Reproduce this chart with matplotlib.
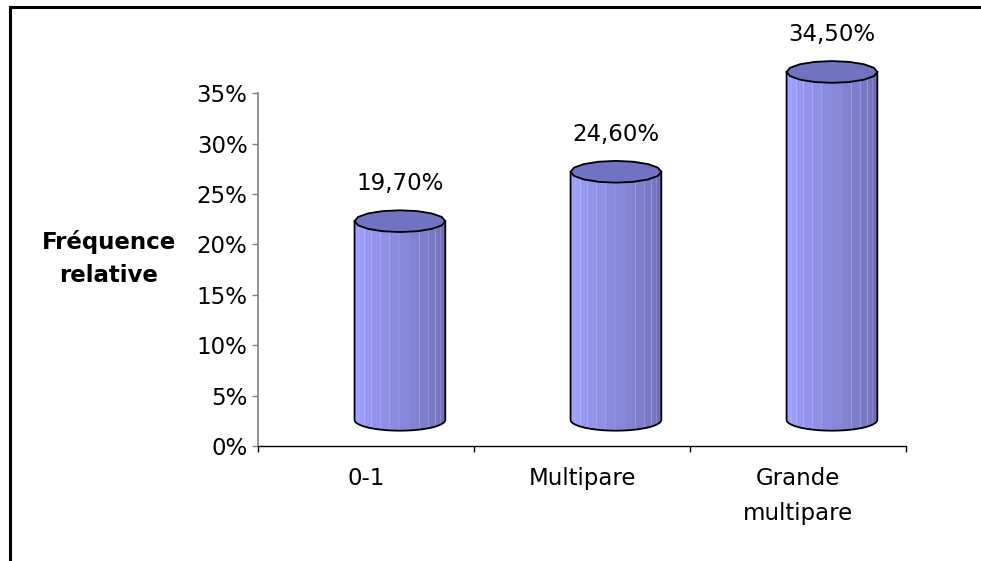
import numpy as np
import matplotlib
matplotlib.use("Agg")
import matplotlib.pyplot as plt
from matplotlib.lines import Line2D
from matplotlib.colors import to_rgb

plt.rcParams['font.family'] = ['DejaVu Sans']

categories = ['0-1', 'Multipare', 'Grande\nmultipare']
values = [0.197, 0.246, 0.345]
yticks = [0, 0.05, 0.10, 0.15, 0.20, 0.25, 0.30, 0.35]

# 3D cylinder look (Excel style): width in category units, depth shift, ellipse radius
cyl_width = 0.42
shift_x = 0.157
base_y = 0.026
ell_ry = 0.0108
n_facets = 14

light = np.array(to_rgb('#a0a0ff'))
dark = np.array(to_rgb('#6c6cb4'))
top_col = '#7272c2'

fig = plt.figure(figsize=(9.81, 5.61), dpi=100)
ax = fig.add_axes([0.263, 0.205, 0.6606, 0.629])
ax.set_xlim(-0.5, 2.5)
ax.set_ylim(0, 0.35)

for i, v in enumerate(values):
    cx = i + shift_x
    rx = cyl_width / 2
    top = base_y + v
    # side of the cylinder as shaded vertical facets
    th = np.linspace(np.pi, 0, n_facets + 1)
    for k in range(n_facets):
        t0, t1 = th[k], th[k + 1]
        x0, x1 = cx + rx * np.cos(t0), cx + rx * np.cos(t1)
        yb0, yb1 = base_y - ell_ry * np.sin(t0), base_y - ell_ry * np.sin(t1)
        yt0, yt1 = top - ell_ry * np.sin(t0), top - ell_ry * np.sin(t1)
        f = k / (n_facets - 1)
        w = np.clip((f - 0.1) / 0.9, 0, 1)
        col = light * (1 - w) + dark * w
        ax.fill([x0, x1, x1, x0], [yb0, yb1, yt1, yt0], color=col, lw=0,
                zorder=3, clip_on=False)
        if k in (1, 5, 9, 11):
            ax.plot([x1, x1], [yb1, yt1], color='white', alpha=0.35, lw=0.8,
                    zorder=3, clip_on=False)
    # outline of the side
    tb = np.linspace(np.pi, 0, 40)
    xs = np.concatenate([[cx - rx], cx + rx * np.cos(tb), [cx + rx]])
    ys = np.concatenate([[top], base_y - ell_ry * np.sin(tb), [top]])
    ax.plot(xs, ys, color='black', lw=1.3, zorder=4, clip_on=False)
    # top ellipse
    ta = np.linspace(0, 2 * np.pi, 17)
    ax.fill(cx + rx * np.cos(ta), top + ell_ry * np.sin(ta), color=top_col,
            ec='black', lw=1.3, zorder=5, clip_on=False)
    label = f"{v * 100:.2f}%".replace('.', ',')
    ax.annotate(label, (cx, top + ell_ry), xytext=(0, 11), textcoords='offset points',
                ha='center', va='bottom', fontsize=16.5, zorder=6,
                annotation_clip=False)

for s in ['top', 'right']:
    ax.spines[s].set_visible(False)
ax.spines['left'].set_color('#808080')
ax.spines['left'].set_linewidth(1.2)
ax.spines['bottom'].set_color('black')
ax.spines['bottom'].set_linewidth(1.0)

ax.set_yticks(yticks)
ax.set_yticklabels([f"{int(round(t * 100))}%" for t in yticks], fontsize=16.5)
ax.tick_params(axis='y', direction='out', length=4.5, width=1, color='#808080', pad=3)

ax.set_xticks([-0.5, 0.5, 1.5, 2.5])
ax.set_xticklabels([])
ax.set_xticks(range(len(categories)), minor=True)
ax.set_xticklabels(categories, minor=True, fontsize=16.5, linespacing=1.65)
ax.tick_params(axis='x', which='major', direction='out', length=4.5, width=1, color='black')
ax.tick_params(axis='x', which='minor', length=0, pad=15)

fig.text(0.111, 0.54, 'Fréquence\nrelative', ha='center', va='center',
         fontsize=16.5, fontweight='bold', linespacing=1.55)

# frame around the chart area
fig.add_artist(Line2D([10 / 981, 10 / 981], [0, 1 - 7 / 561], color='black', lw=2.2))
fig.add_artist(Line2D([10 / 981, 1], [1 - 7 / 561, 1 - 7 / 561], color='black', lw=2.2))

fig.savefig('out.png', dpi=100)
